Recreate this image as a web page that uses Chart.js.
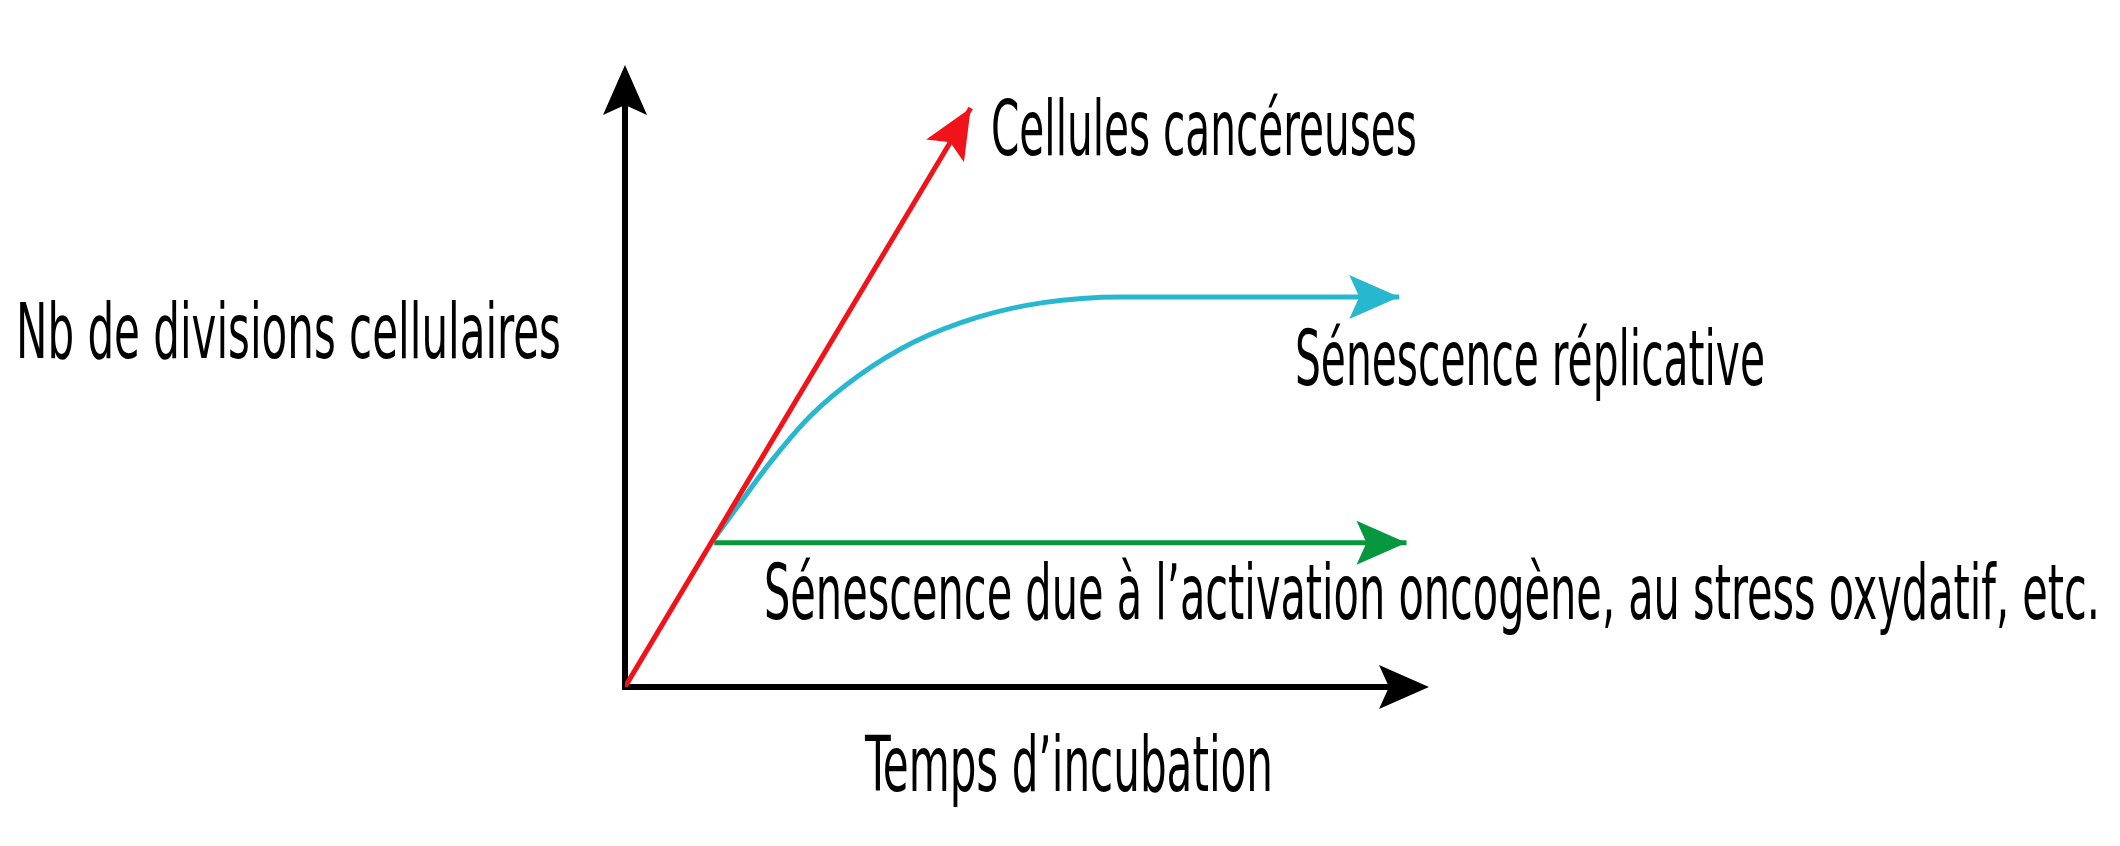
<!DOCTYPE html>
<html>
<head>
<meta charset="utf-8">
<script src="https://cdn.jsdelivr.net/npm/chart.js@4"></script>
<style>
  html, body { margin: 0; background: #fff; }
  #wrap { width: 2120px; height: 846px; }
</style>
</head>
<body>
<div id="wrap"><canvas id="c"></canvas></div>
<script>
// data in axis units (0..100 on both axes)
const cancerX = [0, 43.0];
const cancerY = [0, 93.1];
const replicX = [10.9, 14, 18, 23, 29, 36, 44, 52, 61.8, 96.3];
const replicY = [23.5, 29, 36, 43.5, 50, 55.5, 59.5, 61.8, 62.7, 62.7];
const oncoX = [11.1, 97.2];
const oncoY = [23.2, 23.2];

// label text, target left x / baseline / width in px
const labels = [
  { text: "Cellules cancéreuses", x: 991, y: 155, w: 426 },
  { text: "Sénescence réplicative", x: 1295, y: 385, w: 470 },
  { text: "Sénescence due à l’activation oncogène, au stress oxydatif, etc.", x: 764, y: 619, w: 1336 },
  { text: "Nb de divisions cellulaires", x: 16, y: 358, w: 545 },
  { text: "Temps d’incubation", x: 865, y: 791, w: 408 },
];

const toPts = (xs, ys) => xs.map((x, i) => ({ x, y: ys[i] }));

function arrowHead(ctx, x1, y1, x2, y2, color) {
  const a = Math.atan2(y2 - y1, x2 - x1);
  const len = 50, half = 22;
  ctx.save();
  ctx.translate(x2, y2);
  ctx.rotate(a);
  ctx.fillStyle = color;
  ctx.beginPath();
  ctx.moveTo(0, 0);
  ctx.lineTo(-len, -half);
  ctx.lineTo(-len * 0.8, 0);
  ctx.lineTo(-len, half);
  ctx.closePath();
  ctx.fill();
  ctx.restore();
}

const overlay = {
  id: "overlay",
  beforeDatasetsDraw(chart) {
    const { ctx, chartArea: a } = chart;
    ctx.save();
    ctx.strokeStyle = "#000";
    ctx.lineWidth = 6;
    ctx.beginPath();
    ctx.moveTo(a.left, a.top + 30);
    ctx.lineTo(a.left, a.bottom);
    ctx.lineTo(a.right - 30, a.bottom);
    ctx.stroke();
    ctx.restore();
    arrowHead(ctx, a.left, a.bottom, a.left, a.top, "#000");
    arrowHead(ctx, a.left, a.bottom, a.right, a.bottom, "#000");
  },
  afterDatasetsDraw(chart) {
    const { ctx, scales: { x, y } } = chart;
    chart.data.datasets.forEach(ds => {
      const d = ds.data, n = d.length;
      arrowHead(ctx, x.getPixelForValue(d[n - 2].x), y.getPixelForValue(d[n - 2].y),
        x.getPixelForValue(d[n - 1].x), y.getPixelForValue(d[n - 1].y), ds.borderColor);
    });
    ctx.save();
    ctx.fillStyle = "#000";
    ctx.font = '500 76px "Liberation Sans Narrow", "DejaVu Sans Condensed", sans-serif';
    ctx.textBaseline = "alphabetic";
    labels.forEach(l => {
      const m = ctx.measureText(l.text).width;
      ctx.save();
      ctx.translate(l.x, l.y);
      ctx.scale(l.w / m, 1);
      ctx.fillText(l.text, 0, 0);
      ctx.restore();
    });
    ctx.restore();
  }
};

new Chart(document.getElementById("c"), {
  type: "line",
  data: {
    datasets: [
      { data: toPts(cancerX, cancerY), borderColor: "#f0141a", borderWidth: 5, pointRadius: 0 },
      { data: toPts(replicX, replicY), borderColor: "#27b7cf", borderWidth: 5, pointRadius: 0, cubicInterpolationMode: "monotone" },
      { data: toPts(oncoX, oncoY), borderColor: "#07973f", borderWidth: 5, pointRadius: 0 },
    ],
  },
  options: {
    responsive: true,
    maintainAspectRatio: false,
    animation: false,
    layout: { padding: { left: 625, right: 691, top: 65, bottom: 159 } },
    plugins: { legend: { display: false }, tooltip: { enabled: false } },
    scales: {
      x: { type: "linear", min: 0, max: 100, display: false },
      y: { type: "linear", min: 0, max: 100, display: false },
    },
  },
  plugins: [overlay],
});
</script>
</body>
</html>
